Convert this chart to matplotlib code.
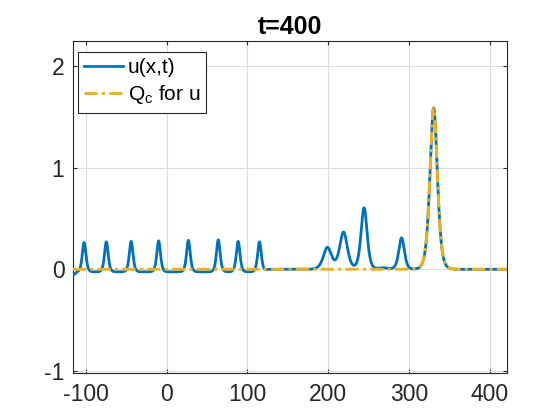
import numpy as np
import matplotlib
matplotlib.use("Agg")
import matplotlib.pyplot as plt

# soliton peaks: centre, height, inverse width
peak_x = [-102.0, -74.5, -43.8, -9.8, 27.0, 64.0, 88.6, 115.0,
          199.0, 219.0, 244.4, 290.8, 330.5]
peak_h = [0.29, 0.295, 0.30, 0.305, 0.31, 0.315, 0.30, 0.295,
          0.215, 0.365, 0.605, 0.31, 1.59]
peak_k = [0.33, 0.33, 0.33, 0.33, 0.33, 0.33, 0.33, 0.33,
          0.15, 0.16, 0.2, 0.22, 0.165]

# small background wiggles (negative shelf on the left, bump near 268)
shelf_edge = 122.0
shelf_depth = -0.025
wiggle_x = [-116.0, 268.0]
wiggle_h = [-0.035, 0.015]
wiggle_k = [0.3, 0.12]

# Q_c fit: only the largest soliton
qc_x = [330.5]
qc_h = [1.59]
qc_k = [0.165]

x_min, x_max = -116, 421
x = np.linspace(x_min, x_max, 3000)


def sech2_sum(xs, cs, hs, ks):
    out = np.zeros_like(xs)
    for c, h, k in zip(cs, hs, ks):
        out += h / np.cosh(k * (xs - c)) ** 2
    return out


u = sech2_sum(x, peak_x, peak_h, peak_k) + sech2_sum(x, wiggle_x, wiggle_h, wiggle_k)
u += shelf_depth * 0.5 * (1 - np.tanh((x - shelf_edge) / 3.0))
qc = sech2_sum(x, qc_x, qc_h, qc_k)

plt.rcParams["font.family"] = ["Liberation Sans", "DejaVu Sans"]
plt.rcParams["mathtext.fontset"] = "custom"
plt.rcParams["mathtext.rm"] = "Liberation Sans"
plt.rcParams["mathtext.it"] = "Liberation Sans"
plt.rcParams["axes.unicode_minus"] = False

fig = plt.figure(figsize=(5.6, 4.2), dpi=100)
ax = fig.add_axes([0.13, 0.112, 0.775, 0.79])

ax.plot(x, u, color="#0072BD", lw=2.0, label="u(x,t)", zorder=3)
ax.plot(x, qc, color="#EDB120", lw=2.1, dashes=(4.5, 1.5, 1.0, 1.5),
        label=r"Q$_\mathrm{c}$ for u", zorder=4)

ax.set_xlim(x_min, x_max)
ax.set_ylim(-1.02, 2.245)
ax.set_xticks([-100, 0, 100, 200, 300, 400])
ax.set_yticks([-1, 0, 1, 2])
ax.grid(True, color="#dcdcdc", lw=0.8)
ax.set_axisbelow(True)

dark = "#262626"
for s in ax.spines.values():
    s.set_color(dark)
    s.set_linewidth(0.8)
ax.tick_params(direction="in", length=3, width=0.8, color=dark,
               labelcolor=dark, labelsize=16.5, top=True, right=True)
ax.tick_params(axis="x", pad=7)
ax.tick_params(axis="y", pad=6)

ax.set_title("t=400", fontsize=18, fontweight="bold", color="black", pad=5)

leg = ax.legend(loc="upper left", bbox_to_anchor=(0.011, 0.968), borderaxespad=0,
                fontsize=15, handlelength=1.9, handletextpad=0.2,
                borderpad=0.3, labelspacing=0.3, fancybox=False, framealpha=1)
leg.get_frame().set_edgecolor(dark)
leg.get_frame().set_linewidth(0.8)

fig.savefig("out.png", dpi=100)
